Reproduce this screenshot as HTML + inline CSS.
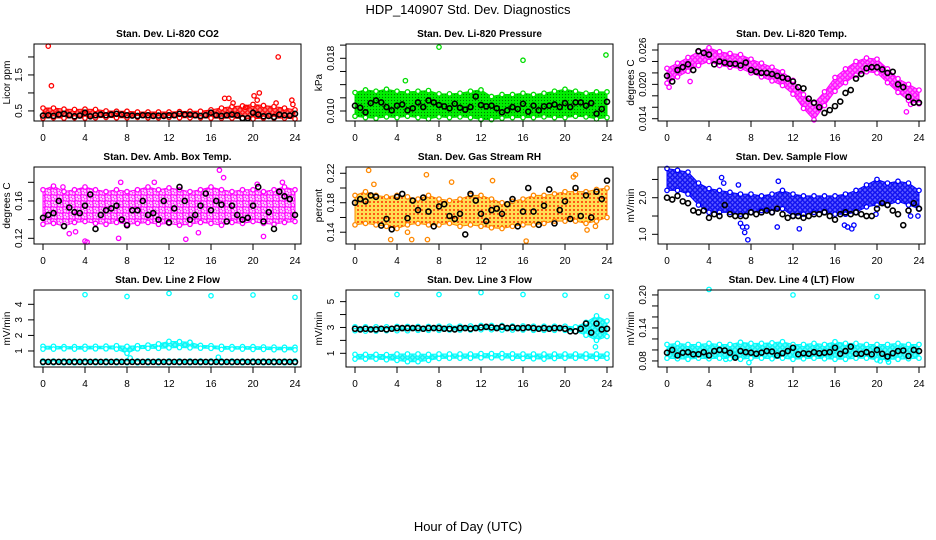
<!DOCTYPE html>
<html><head><meta charset="utf-8"><title>HDP_140907 Std. Dev. Diagnostics</title>
<style>
html,body{margin:0;padding:0;background:#fff;}
svg{display:block;font-family:"Liberation Sans",Arial,sans-serif;}
</style></head>
<body>
<svg id="chart" width="936" height="540" viewBox="0 0 936 540" xmlns="http://www.w3.org/2000/svg">
<defs>
  <pattern id="pat-red" patternUnits="userSpaceOnUse" width="5" height="5"><rect width="5" height="5" fill="#ff8080"/><circle cx="2.5" cy="2.5" r="1.8" fill="none" stroke="#ff0000" stroke-width="1.2"/></pattern>
  <pattern id="pat-green" patternUnits="userSpaceOnUse" width="3" height="3"><rect width="3" height="3" fill="#00ee00"/><circle cx="1.5" cy="1.5" r="0.6" fill="#007700"/></pattern>
  <pattern id="pat-magenta" patternUnits="userSpaceOnUse" width="6" height="6"><rect width="6" height="6" fill="#ffc8ff"/><circle cx="1.5" cy="1.5" r="1.8" fill="none" stroke="#ff00ff" stroke-width="1.2"/><circle cx="4.5" cy="4.5" r="1.8" fill="none" stroke="#ff00ff" stroke-width="1.2"/></pattern>
  <pattern id="pat-magenta2" patternUnits="userSpaceOnUse" width="5" height="5"><rect width="5" height="5" fill="#ff80ff"/><circle cx="2.5" cy="2.5" r="1.8" fill="none" stroke="#ff00ff" stroke-width="1.2"/></pattern>
  <pattern id="pat-orange" patternUnits="userSpaceOnUse" width="4" height="4"><rect width="4" height="4" fill="#ffdd55"/><circle cx="2" cy="2" r="1" fill="#ff3000"/></pattern>
  <pattern id="pat-blue" patternUnits="userSpaceOnUse" width="5" height="5"><rect width="5" height="5" fill="#6060ff"/><circle cx="2.5" cy="2.5" r="1.8" fill="none" stroke="#0000ee" stroke-width="1.2"/></pattern>
  <pattern id="pat-cyan" patternUnits="userSpaceOnUse" width="5" height="5"><rect width="5" height="5" fill="#60ffff"/><circle cx="2.5" cy="2.5" r="1.8" fill="none" stroke="#00eeee" stroke-width="1.2"/></pattern>
</defs>
<text x="468" y="14" font-size="13" text-anchor="middle">HDP_140907  Std. Dev. Diagnostics</text>
<text x="468" y="531" font-size="13" text-anchor="middle">Hour of Day (UTC)</text>
</svg>
<script>
// ---------- data ----------
const hourTicks = [0,4,8,12,16,20,24];
const hours = [0,1,2,3,4,5,6,7,8,9,10,11,12,13,14,15,16,17,18,19,20,21,22,23,24];
const halfHours = [0,0.5,1,1.5,2,2.5,3,3.5,4,4.5,5,5.5,6,6.5,7,7.5,8,8.5,9,9.5,10,10.5,11,11.5,12,12.5,13,13.5,14,14.5,15,15.5,16,16.5,17,17.5,18,18.5,19,19.5,20,20.5,21,21.5,22,22.5,23,23.5,24];

const panelTitles = ["Stan. Dev. Li-820 CO2","Stan. Dev. Li-820 Pressure","Stan. Dev. Li-820 Temp.","Stan. Dev. Amb. Box Temp.","Stan. Dev. Gas Stream RH","Stan. Dev. Sample Flow","Stan. Dev. Line 2 Flow","Stan. Dev. Line 3 Flow","Stan. Dev. Line 4 (LT) Flow"];
const yTitles = ["Licor ppm","kPa","degrees C","degrees C","percent","mV/min","mV/min","mV/min","mV/min"];

// CO2
const co2Hi = [0.58,0.58,0.55,0.54,0.55,0.54,0.5,0.49,0.49,0.47,0.47,0.47,0.47,0.48,0.49,0.49,0.53,0.58,0.62,0.64,0.68,0.65,0.62,0.58,0.53];
const co2Lo = [0.3,0.31,0.3,0.31,0.3,0.31,0.32,0.31,0.31,0.32,0.31,0.31,0.32,0.31,0.31,0.31,0.3,0.3,0.3,0.29,0.28,0.3,0.3,0.3,0.28];
const co2OutT = [0.5,0.8,17.3,17.7,20.1,20.4,20.6,22.2,22.4,23.7,23.8,18.1,19.3];
const co2OutV = [2.3,1.2,0.85,0.85,0.92,0.8,1.0,0.72,2.0,0.8,0.68,0.72,0.6];
const co2Black = [0.37,0.38,0.36,0.4,0.42,0.38,0.35,0.37,0.45,0.35,0.38,0.4,0.38,0.4,0.42,0.4,0.38,0.37,0.36,0.38,0.38,0.36,0.37,0.36,0.38,0.38,0.42,0.4,0.4,0.38,0.36,0.38,0.45,0.38,0.36,0.38,0.4,0.38,0.3,0.3,0.45,0.4,0.35,0.36,0.33,0.4,0.38,0.37,0.42];

// Pressure
const presHi = [0.0128,0.0132,0.013,0.0133,0.013,0.0129,0.013,0.0131,0.0126,0.0126,0.0127,0.013,0.0132,0.0122,0.0125,0.0125,0.0127,0.0125,0.0127,0.013,0.0133,0.013,0.0127,0.0129,0.0129];
const presLo = [0.0092,0.009,0.0089,0.0091,0.009,0.0092,0.009,0.0088,0.0091,0.009,0.0091,0.009,0.0087,0.0087,0.0089,0.009,0.009,0.009,0.0091,0.009,0.009,0.0092,0.0091,0.0088,0.009];
const presOutT = [4.8,8,16,23.9];
const presOutV = [0.0146,0.0197,0.0177,0.0185];
const presBlack = [0.0108,0.0105,0.0098,0.0112,0.0116,0.0113,0.0106,0.0101,0.0108,0.011,0.0101,0.0104,0.0113,0.0106,0.0116,0.0113,0.0109,0.0107,0.0104,0.0111,0.0105,0.0102,0.0106,0.0122,0.0109,0.0107,0.0108,0.0104,0.0098,0.0101,0.0106,0.0103,0.0111,0.0099,0.0108,0.0101,0.0107,0.0108,0.011,0.0106,0.0112,0.0106,0.0113,0.0113,0.0108,0.0112,0.0096,0.0103,0.0114];

// Li-820 Temp
const tmpHi = [0.0228,0.0237,0.0247,0.0257,0.0264,0.0257,0.0254,0.0252,0.0244,0.0237,0.023,0.0222,0.0207,0.0182,0.0167,0.0187,0.0212,0.0227,0.024,0.0246,0.0244,0.0227,0.021,0.02,0.019];
const tmpLo = [0.0202,0.0213,0.0223,0.0233,0.024,0.0233,0.023,0.0228,0.022,0.0213,0.0206,0.0198,0.0183,0.0158,0.0138,0.0163,0.0188,0.0203,0.0216,0.0222,0.022,0.0203,0.0186,0.0172,0.0166];
const tmpOutT = [0.2,2.2,22.8,23.2];
const tmpOutV = [0.0195,0.0205,0.0152,0.0165];
const tmpBlack = [0.0215,0.0205,0.0225,0.023,0.0235,0.0225,0.0258,0.0255,0.0252,0.0235,0.024,0.0238,0.0236,0.0236,0.0233,0.0238,0.0225,0.0222,0.022,0.022,0.0218,0.0215,0.0212,0.021,0.0205,0.0195,0.0193,0.0175,0.0168,0.016,0.015,0.0155,0.0162,0.017,0.0185,0.019,0.021,0.0218,0.0228,0.023,0.023,0.0226,0.022,0.0222,0.02,0.0195,0.0178,0.0168,0.0168];

// Amb Box Temp
const ambHi = [0.172,0.176,0.17,0.172,0.175,0.172,0.17,0.172,0.17,0.172,0.175,0.172,0.174,0.172,0.17,0.172,0.175,0.172,0.17,0.172,0.172,0.17,0.172,0.175,0.172];
const ambLo = [0.135,0.136,0.133,0.137,0.138,0.136,0.135,0.137,0.135,0.136,0.137,0.135,0.136,0.134,0.135,0.137,0.136,0.134,0.137,0.136,0.138,0.136,0.135,0.137,0.138];
const ambOutT = [4,4.2,7.2,7.4,10.6,13.6,16.8,17.2,20.4,21,22.8,3.1,2.5,14.8,1.9];
const ambOutV = [0.117,0.116,0.12,0.18,0.18,0.119,0.193,0.185,0.178,0.122,0.18,0.127,0.125,0.126,0.175];
const ambBlack = [0.142,0.145,0.147,0.16,0.133,0.153,0.148,0.147,0.155,0.167,0.13,0.145,0.15,0.152,0.155,0.14,0.134,0.15,0.15,0.16,0.145,0.147,0.14,0.16,0.137,0.152,0.175,0.16,0.14,0.145,0.155,0.168,0.15,0.16,0.156,0.138,0.155,0.145,0.14,0.142,0.155,0.175,0.138,0.148,0.13,0.17,0.165,0.162,0.145];

// Gas Stream RH
const rhHi = [0.19,0.195,0.19,0.188,0.19,0.188,0.185,0.19,0.185,0.183,0.185,0.19,0.19,0.185,0.18,0.182,0.185,0.19,0.19,0.192,0.195,0.195,0.195,0.198,0.2];
const rhLo = [0.15,0.152,0.15,0.148,0.145,0.15,0.152,0.15,0.15,0.152,0.148,0.15,0.148,0.146,0.145,0.148,0.15,0.15,0.152,0.155,0.155,0.155,0.152,0.155,0.16];
const rhOutT = [1.3,1.8,3.4,5,5.4,6.8,6.9,9.2,13.1,16.3,20.8,21,22.1,22.9];
const rhOutV = [0.224,0.205,0.13,0.14,0.13,0.218,0.13,0.208,0.21,0.128,0.215,0.218,0.143,0.148];
const rhBlack = [0.18,0.185,0.182,0.19,0.188,0.149,0.158,0.144,0.188,0.192,0.159,0.183,0.17,0.187,0.168,0.148,0.175,0.178,0.162,0.158,0.165,0.137,0.192,0.183,0.165,0.155,0.17,0.172,0.165,0.178,0.185,0.148,0.168,0.2,0.168,0.15,0.176,0.198,0.152,0.17,0.182,0.158,0.2,0.162,0.19,0.16,0.195,0.185,0.21];

// Sample Flow
const sfHi = [2.8,2.75,2.7,2.4,2.25,2.2,2.15,2.1,2.1,2.05,2.1,2.2,2.1,2.05,2.05,2.05,2.05,2.1,2.2,2.35,2.5,2.4,2.45,2.4,2.2];
const sfLo = [2.2,2.2,2.1,1.8,1.6,1.6,1.6,1.55,1.6,1.65,1.6,1.7,1.5,1.55,1.6,1.6,1.55,1.55,1.6,1.75,1.8,1.8,1.9,1.8,1.7];
const sfOutT = [5.2,5.4,6.8,7.0,7.2,7.4,7.6,7.7,10.6,10.5,12.6,17.2,17.6,17.8,16.9,19.9,23.2,23.9];
const sfOutV = [2.55,2.4,2.35,1.3,1.2,1.05,1.2,0.85,2.45,1.2,1.15,1.2,1.15,1.25,1.25,1.55,1.5,1.5];
const sfBlack = [2.0,1.95,2.05,1.9,1.85,1.65,1.6,1.65,1.45,1.55,1.5,1.8,1.55,1.5,1.5,1.5,1.6,1.55,1.6,1.65,1.6,1.7,1.55,1.45,1.5,1.5,1.45,1.5,1.55,1.55,1.6,1.5,1.4,1.55,1.6,1.55,1.6,1.55,1.5,1.5,1.7,1.85,1.8,1.65,1.55,1.25,1.65,1.85,1.7];

// Line 2 Flow
const l2Hi = [1.3,1.3,1.28,1.28,1.3,1.3,1.31,1.34,1.3,1.34,1.38,1.46,1.62,1.6,1.56,1.36,1.34,1.3,1.28,1.28,1.28,1.26,1.25,1.24,1.24];
const l2Lo = [1.12,1.12,1.14,1.12,1.12,1.14,1.14,1.12,0.85,1.14,1.17,1.17,1.2,1.22,1.2,1.18,1.17,1.1,1.12,1.12,1.1,1.1,1.08,1.08,1.07];
const l2BaseHi = [0.36,0.36,0.36,0.36,0.36,0.36,0.36,0.36,0.36,0.36,0.36,0.36,0.36,0.36,0.36,0.36,0.36,0.36,0.36,0.36,0.36,0.36,0.36,0.36,0.36];
const l2BaseLo = [0.24,0.24,0.24,0.24,0.24,0.24,0.24,0.24,0.24,0.24,0.24,0.24,0.24,0.24,0.24,0.24,0.24,0.24,0.24,0.24,0.24,0.24,0.24,0.24,0.24];
const l2OutT = [4,8,12,16,20,24,16.7,8.3];
const l2OutV = [4.62,4.5,4.7,4.55,4.6,4.45,0.6,0.55];
const l2Black = [0.3,0.3,0.3,0.3,0.3,0.3,0.3,0.3,0.3,0.3,0.3,0.3,0.3,0.3,0.3,0.3,0.3,0.3,0.3,0.3,0.3,0.3,0.3,0.3,0.3,0.3,0.3,0.3,0.3,0.3,0.3,0.3,0.3,0.3,0.3,0.3,0.3,0.3,0.3,0.3,0.3,0.3,0.3,0.3,0.3,0.3,0.3,0.3,0.3];

// Line 3 Flow
const l3Hi = [3.05,3.05,3.05,3.05,3.08,3.08,3.08,3.08,3.1,3.1,3.1,3.12,3.15,3.15,3.15,3.12,3.12,3.1,3.1,3.1,3.1,3.05,3.4,3.9,3.5];
const l3Lo = [2.75,2.72,2.72,2.75,2.75,2.75,2.78,2.78,2.78,2.8,2.8,2.8,2.82,2.82,2.8,2.8,2.8,2.78,2.78,2.78,2.78,2.7,2.4,2.0,2.3];
const l3BaseHi = [0.92,0.92,0.92,0.9,0.95,0.95,0.95,0.92,0.95,0.95,0.95,0.95,0.98,0.98,0.98,0.96,0.95,0.95,0.95,0.95,0.95,0.95,0.95,0.95,0.95];
const l3BaseLo = [0.55,0.55,0.55,0.5,0.45,0.35,0.35,0.45,0.6,0.62,0.62,0.62,0.65,0.65,0.65,0.62,0.6,0.58,0.55,0.6,0.62,0.62,0.62,0.6,0.62];
const l3OutT = [4,8,12,16,20,24,22.9];
const l3OutV = [5.55,5.55,5.7,5.55,5.5,5.4,1.5];
const l3Black = [2.9,2.85,2.9,2.85,2.85,2.9,2.85,2.9,2.95,2.95,2.95,2.95,2.95,2.9,2.95,2.95,2.95,2.9,2.9,2.85,2.95,2.95,2.9,2.95,3.0,3.05,3.0,2.95,3.05,2.95,3.0,2.95,2.95,3.0,2.95,2.9,2.95,2.9,2.95,2.95,2.9,2.7,2.7,2.9,3.3,2.6,3.3,2.85,2.9];

// Line 4 Flow
const l4Hi = [0.11,0.112,0.11,0.11,0.112,0.11,0.11,0.114,0.112,0.112,0.113,0.115,0.11,0.11,0.112,0.11,0.115,0.112,0.112,0.11,0.11,0.11,0.112,0.11,0.11];
const l4Lo = [0.085,0.084,0.083,0.085,0.084,0.085,0.084,0.083,0.085,0.085,0.084,0.085,0.083,0.084,0.085,0.084,0.083,0.083,0.085,0.085,0.082,0.083,0.083,0.084,0.085];
const l4OutT = [4,12,20,7.8,20.3,21.1,5.6];
const l4OutV = [0.21,0.2,0.197,0.077,0.08,0.078,0.083];
const l4Black = [0.095,0.1,0.09,0.095,0.096,0.092,0.092,0.096,0.09,0.098,0.1,0.099,0.095,0.086,0.098,0.096,0.095,0.093,0.095,0.098,0.097,0.09,0.094,0.098,0.104,0.092,0.094,0.093,0.096,0.094,0.095,0.096,0.104,0.093,0.098,0.106,0.093,0.093,0.096,0.092,0.1,0.093,0.088,0.094,0.098,0.099,0.089,0.1,0.098];

// ---------- panels ----------
const NS = "http://www.w3.org/2000/svg";
const svg = document.getElementById("chart");
function mk(tag, attrs, parent) {
  const e = document.createElementNS(NS, tag);
  for (const k in attrs) e.setAttribute(k, attrs[k]);
  (parent || svg).appendChild(e);
  return e;
}

const panels = [
  {yMin:0.22, yMax:2.36, ticks:[0.5,1,1.5,2], labels:["0.5","","1.5",""], color:"#ff0000", pat:"pat-red",
   bands:[[co2Hi,co2Lo]], outT:co2OutT, outV:co2OutV, black:co2Black},
  {yMin:0.00848, yMax:0.02017, ticks:[0.010,0.012,0.014,0.016,0.018,0.020], labels:["0.010","","","","0.018",""], color:"#00dd00", pat:"pat-green",
   bands:[[presHi,presLo]], outT:presOutT, outV:presOutV, black:presBlack},
  {yMin:0.0136, yMax:0.02705, ticks:[0.014,0.016,0.018,0.020,0.022,0.024,0.026], labels:["0.014","","","0.020","","","0.026"], color:"#ff00ff", pat:"pat-magenta2",
   bands:[[tmpHi,tmpLo]], outT:tmpOutT, outV:tmpOutV, black:tmpBlack},
  {yMin:0.1139, yMax:0.1964, ticks:[0.12,0.14,0.16,0.18], labels:["0.12","","0.16",""], color:"#ff00ff", pat:"pat-magenta",
   bands:[[ambHi,ambLo]], outT:ambOutT, outV:ambOutV, black:ambBlack},
  {yMin:0.124, yMax:0.2285, ticks:[0.14,0.16,0.18,0.20,0.22], labels:["0.14","","0.18","","0.22"], color:"#ff8800", pat:"pat-orange",
   bands:[[rhHi,rhLo]], outT:rhOutT, outV:rhOutV, black:rhBlack},
  {yMin:0.735, yMax:2.84, ticks:[1.0,1.5,2.0,2.5], labels:["1.0","","2.0",""], color:"#0000ff", pat:"pat-blue",
   bands:[[sfHi,sfLo]], outT:sfOutT, outV:sfOutV, black:sfBlack},
  {yMin:-0.03, yMax:4.92, ticks:[1,2,3,4], labels:["1","2","3","4"], color:"#00ffff", pat:"pat-cyan",
   bands:[[l2Hi,l2Lo],[l2BaseHi,l2BaseLo]], outT:l2OutT, outV:l2OutV, black:l2Black},
  {yMin:-0.06, yMax:5.9, ticks:[1,2,3,4,5], labels:["1","","3","","5"], color:"#00ffff", pat:"pat-cyan",
   bands:[[l3Hi,l3Lo],[l3BaseHi,l3BaseLo]], outT:l3OutT, outV:l3OutV, black:l3Black},
  {yMin:0.069, yMax:0.209, ticks:[0.08,0.10,0.12,0.14,0.16,0.18,0.20], labels:["0.08","","","0.14","","","0.20"], color:"#00ffff", pat:"pat-cyan",
   bands:[[l4Hi,l4Lo]], outT:l4OutT, outV:l4OutV, black:l4Black}
];

panels.forEach((p, i) => {
  const col = i % 3, row = Math.floor(i / 3);
  const L = 34 + 312 * col, T = 44 + 123 * row, W = 267, H = 77, B = T + H;
  const xs = t => L + 9 + t * (252 / 24);
  const ys = v => B - (v - p.yMin) / (p.yMax - p.yMin) * H;

  const g = mk("g", {});
  
  

  const title = mk("text", {x: L + W / 2, y: T - 7, "font-size": 10, "font-weight": "bold", "text-anchor": "middle"}, g);
  title.textContent = panelTitles[i];
  
  

  const yt = mk("text", {x: L - 24, y: T + H / 2, "font-size": 10, "text-anchor": "middle", transform: `rotate(-90 ${L - 24} ${T + H / 2})`}, g);
  yt.textContent = yTitles[i];
  
  

  // bands
  p.bands.forEach((bd) => {
    const hi = bd[0], lo = bd[1];
    let pts = hours.map((h, k) => xs(h) + "," + ys(hi[k]));
    pts = pts.concat(hours.slice().reverse().map((h, k) => xs(h) + "," + ys(lo[hours.length - 1 - k])));
    const poly = mk("polygon", {points: pts.join(" "), fill: `url(#${p.pat})`, stroke: p.color, "stroke-width": 1, "stroke-linejoin": "round"}, g);
    
    
    hours.forEach((h, k) => {
      [hi[k], lo[k]].forEach(v => {
        const c = mk("circle", {cx: xs(h), cy: ys(v), r: 2.2, fill: "#fff", stroke: p.color, "stroke-width": 1.3}, g);
        
        
      });
    });
  });

  // outliers
  p.outT.forEach((t, k) => {
    const c = mk("circle", {cx: xs(t), cy: ys(p.outV[k]), r: 2.2, fill: "none", stroke: p.color, "stroke-width": 1.3}, g);
    
    
  });

  // black points
  p.black.forEach((v, k) => {
    const c = mk("circle", {cx: xs(halfHours[k]), cy: ys(v), r: 2.5, fill: "none", stroke: "#000", "stroke-width": 1.6}, g);
    
    
  });

  // box
  const box = mk("rect", {x: L, y: T, width: W, height: H, fill: "none", stroke: "#000", "stroke-width": 1}, g);
  
  

  // x axis
  const xa = mk("line", {x1: xs(0), x2: xs(24), y1: B, y2: B, stroke: "#000"}, g);
  
  
  hourTicks.forEach(h => {
    const tk = mk("line", {x1: xs(h), x2: xs(h), y1: B, y2: B + 6, stroke: "#000"}, g);
    
    
    const tl = mk("text", {x: xs(h), y: B + 20, "font-size": 10, "text-anchor": "middle"}, g);
    tl.textContent = String(h);
    
    
  });

  // y axis
  const ya = mk("line", {x1: L, x2: L, y1: ys(p.ticks[0]), y2: ys(p.ticks[p.ticks.length - 1]), stroke: "#000"}, g);
  
  
  p.ticks.forEach((v, k) => {
    const y = ys(v);
    const tk = mk("line", {x1: L - 6, x2: L, y1: y, y2: y, stroke: "#000"}, g);
    
    
    if (p.labels[k]) {
      const tl = mk("text", {x: L - 12, y: y, "font-size": 10, "text-anchor": "middle", transform: `rotate(-90 ${L - 12} ${y})`}, g);
      tl.textContent = p.labels[k];
      
      
    }
  });
});
</script>
</body></html>
